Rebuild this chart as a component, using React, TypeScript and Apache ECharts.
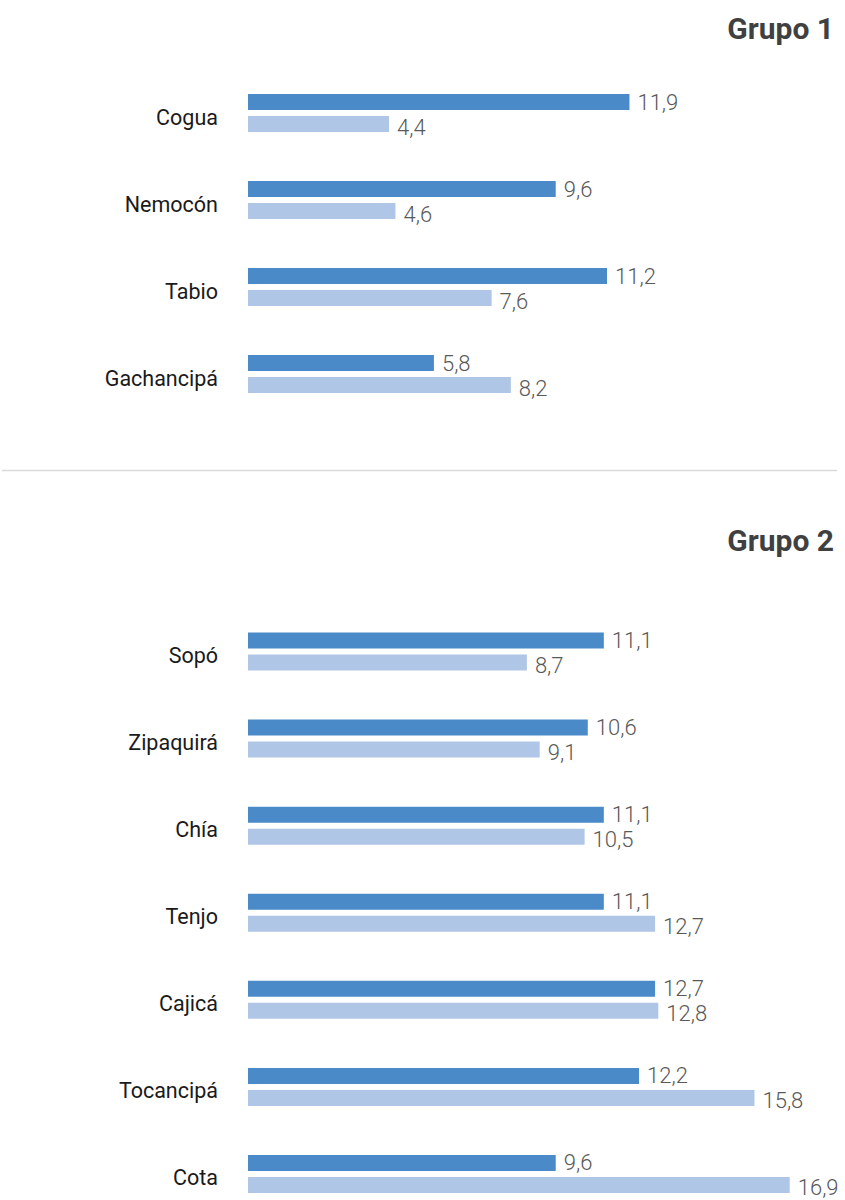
import React, { useEffect, useRef } from "react";
import * as echarts from "echarts";

const group1Categories = ["Cogua", "Nemocón", "Tabio", "Gachancipá"];
const group1Dark = [11.9, 9.6, 11.2, 5.8];
const group1Light = [4.4, 4.6, 7.6, 8.2];

const group2Categories = ["Sopó", "Zipaquirá", "Chía", "Tenjo", "Cajicá", "Tocancipá", "Cota"];
const group2Dark = [11.1, 10.6, 11.1, 11.1, 12.7, 12.2, 9.6];
const group2Light = [8.7, 9.1, 10.5, 12.7, 12.8, 15.8, 16.9];

const titles = ["Grupo 1", "Grupo 2"];

const DARK = "#4A8AC9";
const LIGHT = "#AFC6E7";

export default function App() {
  const ref = useRef<HTMLDivElement>(null);
  useEffect(() => {
    if (!ref.current) return;
    const chart = echarts.init(ref.current, undefined, { renderer: "svg" });
    const fmt = (p: any) => Number(p.value).toFixed(1).replace(".", ",");
    const valueLabel = (dy: number) => ({
      show: true,
      position: "right",
      distance: 8,
      offset: [0, dy],
      formatter: fmt,
      color: "#595959",
      fontFamily: "Roboto",
      fontWeight: 300,
      fontSize: 22,
    });
    const catLabel = {
      margin: 30,
      formatter: (v: string) => "{c|" + v + "}",
      rich: {
        c: {
          color: "#1a1a1a",
          fontFamily: "Roboto",
          fontSize: 21.5,
          padding: [8, 0, 0, 0],
        },
      },
    };
    const mkSeries = (idx: number, data: number[], color: string, dy: number) => ({
      type: "bar",
      xAxisIndex: idx,
      yAxisIndex: idx,
      data,
      barWidth: 16,
      barGap: "37.5%",
      itemStyle: { color },
      label: valueLabel(dy),
      silent: true,
    });
    const titleStyle = { fontFamily: "Roboto", fontWeight: "bold", fontSize: 30, color: "#404040" };
    chart.setOption({
      animation: false,
      title: [
        { text: titles[0], right: 6, top: 8, textStyle: titleStyle },
        { text: titles[1], right: 6, top: 520, textStyle: titleStyle },
      ],
      grid: [
        { left: 248, width: 577, top: 69.5, height: 348, containLabel: false },
        { left: 248, width: 577, top: 608, height: 609.5, containLabel: false },
      ],
      xAxis: [0, 1].map((i) => ({
        type: "value",
        gridIndex: i,
        min: 0,
        max: 18,
        show: false,
      })),
      yAxis: [
        {
          type: "category",
          gridIndex: 0,
          inverse: true,
          data: group1Categories,
          axisLine: { show: false },
          axisTick: { show: false },
          axisLabel: catLabel,
        },
        {
          type: "category",
          gridIndex: 1,
          inverse: true,
          data: group2Categories,
          axisLine: { show: false },
          axisTick: { show: false },
          axisLabel: catLabel,
        },
      ],
      graphic: [
        {
          type: "line",
          shape: { x1: 2, y1: 470.5, x2: 837, y2: 470.5 },
          style: { stroke: "#d9d9d9", lineWidth: 1.5 },
        },
      ],
      series: [
        mkSeries(0, group1Dark, DARK, 0),
        mkSeries(0, group1Light, LIGHT, 3),
        mkSeries(1, group2Dark, DARK, 0),
        mkSeries(1, group2Light, LIGHT, 3),
      ],
    });
    return () => chart.dispose();
  }, []);
  return (
    <div
      ref={ref}
      style={{ position: "fixed", left: 0, top: 0, width: 845, height: 1230, background: "#fff" }}
    />
  );
}
